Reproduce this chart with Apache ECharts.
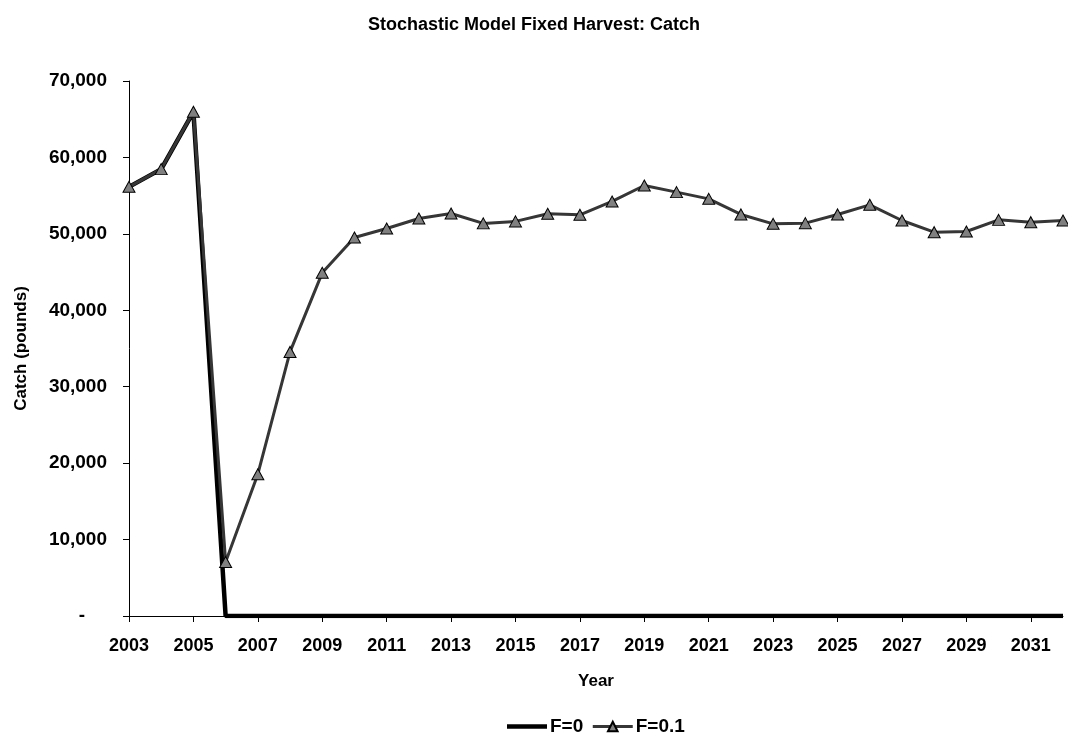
<!DOCTYPE html>
<html>
<head>
<meta charset="utf-8">
<script src="https://cdn.jsdelivr.net/npm/echarts@6/dist/echarts.min.js"></script>
<style>
html,body{margin:0;padding:0;background:#fff;}
#chart{width:1068px;height:736px;}
</style>
</head>
<body>
<div id="chart"></div>
<script>
const years = ['2003','2004','2005','2006','2007','2008','2009','2010','2011','2012','2013','2014','2015','2016','2017','2018','2019','2020','2021','2022','2023','2024','2025','2026','2027','2028','2029','2030','2031','2032'];
const f0 = [56150,58470,65970,0,0,0,0,0,0,0,0,0,0,0,0,0,0,0,0,0,0,0,0,0,0,0,0,0,0,0];
const f01 = [56150,58470,65970,7070,18550,34550,44900,49530,50700,52010,52670,51370,51630,52620,52490,54240,56330,55460,54580,52540,51310,51400,52540,53800,51750,50220,50310,51830,51530,51750];
const seriesNames = ['F=0','F=0.1'];
const titleText = 'Stochastic Model Fixed Harvest: Catch';
const yName = 'Catch (pounds)';
const xName = 'Year';

const FONT = '"Liberation Sans", Arial, sans-serif';
const chart = echarts.init(document.getElementById('chart'), null, {renderer:'canvas'});
chart.setOption({
  animation: false,
  backgroundColor: '#ffffff',
  textStyle: {fontFamily: FONT, color: '#000'},
  title: {
    text: titleText, left: 'center', top: 11,
    textStyle: {fontFamily: FONT, fontSize: 18, fontWeight: 'bold', color: '#000'}
  },
  legend: {
    left: 502, top: 712,
    itemWidth: 40, itemHeight: 12, itemGap: 8,
    textStyle: {fontFamily: FONT, fontSize: 19, fontWeight: 'bold', color: '#000', padding: [0,0,0,-2]},
    data: [
      {name: seriesNames[0], icon: 'path://M0,0L40,0L40,4.5L0,4.5Z', itemStyle: {color: '#000'}},
      {name: seriesNames[1], lineStyle: {width: 3, color: '#363636'}}
    ]
  },
  grid: {left: 129, right: 5, top: 81, bottom: 120, containLabel: false},
  xAxis: {
    type: 'category', data: years, boundaryGap: false,
    name: xName, nameLocation: 'middle', nameGap: 57,
    nameTextStyle: {fontFamily: FONT, fontSize: 17, fontWeight: 'bold', color: '#000'},
    axisLine: {lineStyle: {color: '#000', width: 1}},
    axisTick: {interval: 1, length: 6, lineStyle: {color: '#000'}},
    axisLabel: {interval: 1, margin: 21, fontFamily: FONT, fontSize: 18, fontWeight: 'bold', color: '#000'},
    splitLine: {show: false}
  },
  yAxis: {
    type: 'value', min: 0, max: 70000, interval: 10000,
    name: yName, nameLocation: 'middle', nameGap: 99,
    nameTextStyle: {fontFamily: FONT, fontSize: 17, fontWeight: 'bold', color: '#000'},
    axisLine: {show: true, lineStyle: {color: '#000', width: 1}},
    axisTick: {show: true, length: 6, lineStyle: {color: '#000'}},
    axisLabel: {
      margin: 22, fontFamily: FONT, fontSize: 19, fontWeight: 'bold', color: '#000',
      formatter: function(v){ return v === 0 ? '{d|-}' : v.toLocaleString('en-US'); },
      rich: {d: {fontFamily: FONT, fontSize: 19, fontWeight: 'bold', color: '#000', padding: [0,22,0,0]}}
    },
    splitLine: {show: false}
  },
  series: [
    {
      name: seriesNames[0], type: 'line', data: f0,
      symbol: 'none', showSymbol: false,
      lineStyle: {color: '#000', width: 4.5},
      itemStyle: {color: '#000'},
      z: 2
    },
    {
      name: seriesNames[1], type: 'line', data: f01,
      symbol: 'triangle', symbolSize: [12, 11], showSymbol: true,
      lineStyle: {color: '#363636', width: 3},
      itemStyle: {color: '#808080', borderColor: '#000', borderWidth: 1},
      z: 3
    }
  ]
});
</script>
</body>
</html>
